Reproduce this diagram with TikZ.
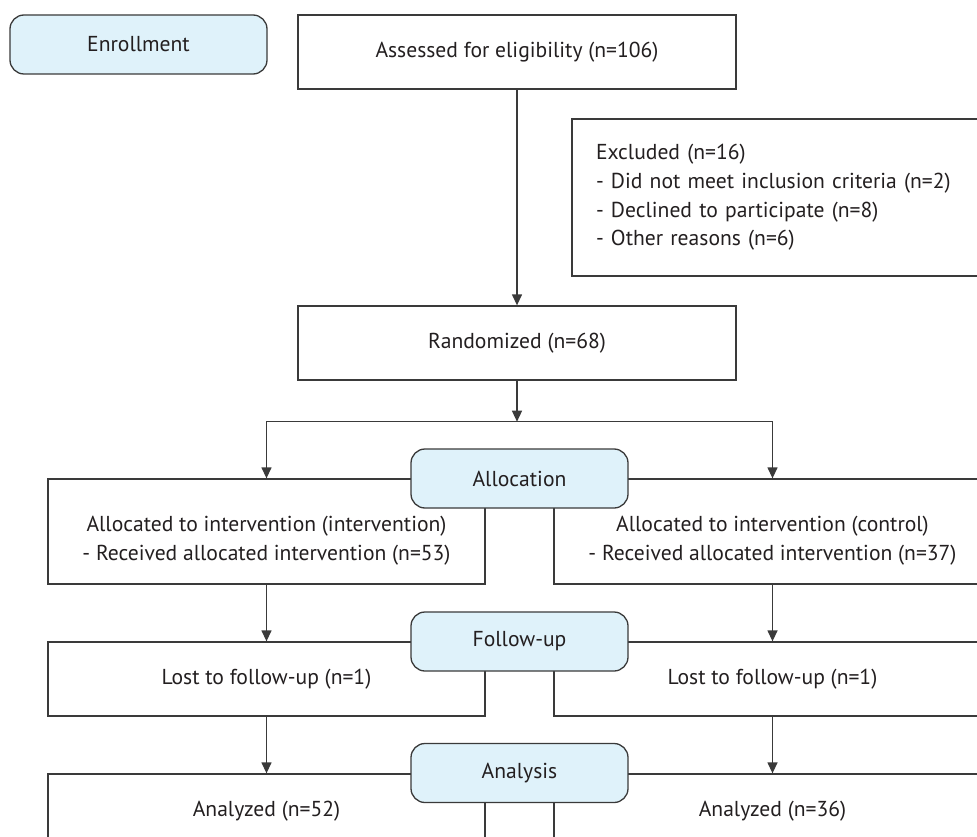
\documentclass[tikz,border=0pt]{standalone}
\usepackage{fontspec}
\setmainfont{PT Sans}
\usetikzlibrary{arrows.meta,positioning}
\definecolor{ink}{HTML}{231F20}
\definecolor{edge}{HTML}{3A3A3A}
\definecolor{stage}{HTML}{DFF2FA}
\tikzset{
  >={Triangle[length=11pt,width=10pt]},
  every picture/.style={line width=1.3pt,font=\fontsize{21.6}{28.7}\selectfont},
  bx/.style={draw=edge,fill=white,align=center,inner sep=0pt,text=ink},
  bxw/.style={bx,minimum width=437pt,minimum height=74pt},
  stg/.style={bx,fill=stage,rounded corners=14pt,minimum width=217pt,minimum height=59pt},
  arr/.style={->,draw=edge},
}

\begin{document}
\begin{tikzpicture}[x=1pt,y=1pt]
  \path[use as bounding box,clip] (0,0) rectangle (977,-837);
  % top part
  \node[stg,minimum width=257pt] (enr) at (138.5,-44.5) {Enrollment};
  \node[bxw,minimum width=438pt] (ass) at (517,-52) {Assessed for eligibility (n=106)};
  \node[bx,align=left,text width=390pt,inner xsep=24pt,minimum height=157pt] (exc) at (791,-197.5)
    {Excluded (n=16)\\- Did not meet inclusion criteria (n=2)\\- Declined to participate (n=8)\\- Other reasons (n=6)};
  \node[bxw,minimum width=438pt] (rnd) at (517,-343) {Randomized (n=68)};
  \coordinate (split) at (517,-421.7);
  % two arms
  \node[bxw,minimum height=105pt] (al1) at (266.5,-531.5)
    {\rule{0pt}{34pt}Allocated to intervention (intervention)\\- Received allocated intervention (n=53)};
  \node[bxw,minimum height=105pt] (al2) at (772.5,-531.5)
    {\rule{0pt}{34pt}Allocated to intervention (control)\\- Received allocated intervention (n=37)};
  \node[bxw] (lo1) at (266.5,-679) {Lost to follow-up (n=1)};
  \node[bxw] (lo2) at (772.5,-679) {Lost to follow-up (n=1)};
  \node[bxw] (an1) at (266.5,-811) {Analyzed (n=52)};
  \node[bxw] (an2) at (772.5,-811) {Analyzed (n=36)};
  % stage labels on top
  \node[stg] (alc) at (519.5,-478.5) {Allocation};
  \node[stg] (fol) at (519.5,-641.5) {Follow-up};
  \node[stg] (ana) at (519.5,-773) {Analysis};
  % connectors
  \draw[arr] (ass) -- (rnd);
  \draw[arr] (rnd) -- (split);
  \draw[arr] (split) -| (al1.north);
  \draw[arr] (split) -| (al2.north);
  \draw[arr] (al1) -- (lo1);
  \draw[arr] (al2) -- (lo2);
  \draw[arr] (lo1) -- (an1);
  \draw[arr] (lo2) -- (an2);
\end{tikzpicture}
\end{document}
